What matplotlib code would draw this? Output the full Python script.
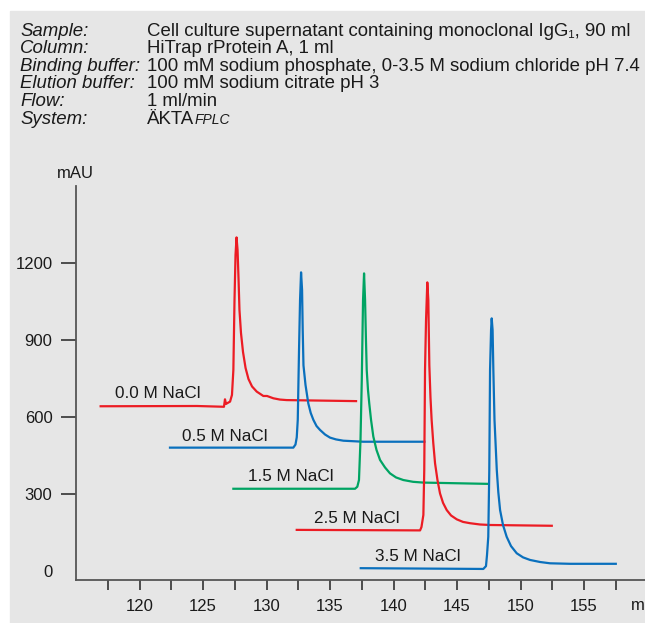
"""
Chromatograms of IgG1 on HiTrap rProtein A at increasing NaCl in the binding buffer.
Generates: out.png
"""
import matplotlib
matplotlib.use("Agg")
import matplotlib.pyplot as plt
from matplotlib.patches import Rectangle

plt.rcParams.update({
    'font.family': ['Liberation Sans', 'DejaVu Sans'],
    'font.size': 12,
})

# --- header info ---
info_keys = ['Sample:', 'Column:', 'Binding buffer:', 'Elution buffer:', 'Flow:', 'System:']
info_vals = ['Cell culture supernatant containing monoclonal IgG\u2081, 90 ml',
             'HiTrap rProtein A, 1 ml',
             '100 mM sodium phosphate, 0-3.5 M sodium chloride pH 7.4',
             '100 mM sodium citrate pH 3',
             '1 ml/min',
             '\u00c4KTA']

# --- traces (ml, mAU) ---
nacl_00_ml = [116.94, 124.53, 126.65, 126.73, 126.81, 126.91, 127.13, 127.28, 127.39, 127.48,
              127.56, 127.64, 127.72, 127.80, 127.87, 127.99, 128.15, 128.35, 128.58, 128.86,
              129.23, 129.75, 130.04, 130.54, 131.06, 131.59, 137.05]
nacl_00_mau = [641, 642, 639, 668, 650, 653, 659, 685, 782, 1054,
               1230, 1298, 1249, 1132, 1016, 926, 852, 790, 747, 718,
               698, 681, 681, 672, 667, 665, 661]

nacl_05_ml = [122.40, 132.11, 132.28, 132.38, 132.46, 132.56, 132.64, 132.72, 132.80, 132.85,
              132.91, 133.07, 133.29, 133.48, 133.69, 133.94, 134.21, 134.61, 135.00, 135.47,
              136.05, 137.62, 142.43]
nacl_05_mau = [480, 480, 492, 520, 588, 860, 1054, 1162, 1093, 938,
               800, 724, 652, 615, 588, 564, 549, 531, 519, 512,
               507, 503, 503]

nacl_15_ml = [127.39, 136.97, 137.15, 137.28, 137.40, 137.50, 137.60, 137.68, 137.76, 137.83,
              137.89, 137.99, 138.09, 138.23, 138.41, 138.66, 138.94, 139.33, 139.72, 140.20,
              140.77, 141.54, 142.35, 147.47]
nacl_15_mau = [320, 320, 328, 354, 510, 743, 1054, 1158, 1054, 899,
               782, 704, 652, 588, 523, 471, 432, 403, 380, 364,
               354, 347, 344, 339]

nacl_25_ml = [132.38, 142.09, 142.20, 142.35, 142.42, 142.48, 142.56, 142.66, 142.74, 142.82,
              142.91, 143.00, 143.13, 143.27, 143.46, 143.66, 143.90, 144.19, 144.53, 144.98,
              145.47, 146.02, 146.81, 147.60, 152.46]
nacl_25_mau = [160, 158, 171, 218, 393, 782, 977, 1123, 1054, 800,
               675, 588, 498, 419, 354, 302, 265, 237, 216, 201,
               191, 186, 181, 179, 176]

nacl_35_ml = [137.42, 147.07, 147.28, 147.36, 147.46, 147.54, 147.60, 147.68, 147.73, 147.80,
              147.86, 147.95, 148.13, 148.25, 148.39, 148.62, 148.91, 149.25, 149.70, 150.20,
              150.75, 151.54, 152.32, 153.90, 157.50]
nacl_35_mau = [11, 8, 19, 62, 133, 393, 782, 938, 983, 938,
               782, 588, 393, 307, 237, 179, 133, 97, 69, 53,
               43, 35, 30, 28, 28]

labels = ['0.0 M NaCl', '0.5 M NaCl', '1.5 M NaCl', '2.5 M NaCl', '3.5 M NaCl']
label_ml = [121.46, 126.71, 131.93, 137.13, 141.89]
label_mau = [691, 525, 366, 206, 56]

RED, BLUE, GREEN = '#ec1c24', '#0a70bd', '#00a463'
traces = [(nacl_00_ml, nacl_00_mau, RED), (nacl_05_ml, nacl_05_mau, BLUE),
          (nacl_15_ml, nacl_15_mau, GREEN), (nacl_25_ml, nacl_25_mau, RED),
          (nacl_35_ml, nacl_35_mau, BLUE)]

W, H = 645, 623
fig = plt.figure(figsize=(W / 100, H / 100), dpi=100, facecolor='white')
fig.patches.append(Rectangle((10 / W, 0), 1, 1 - 11 / H, transform=fig.transFigure,
                             color='#e6e6e6', zorder=-10))

# header block
txt_col = '#1a1a1a'
for i, (k, v) in enumerate(zip(info_keys, info_vals)):
    yc = 1 - (31 + i * 17.6) / H
    fig.text(20 / W, yc, k, style='italic', va='center', ha='left', color=txt_col, fontsize=13.4)
    t = fig.text(147 / W, yc, v, va='center', ha='left', color=txt_col, fontsize=13.4)
r = fig.canvas.get_renderer()
bb = t.get_window_extent(renderer=r)
fig.text(bb.x1 / W, yc - 1 / H, 'FPLC', style='italic', fontsize=10, va='center', ha='left',
         color=txt_col)

ax = fig.add_axes([76 / W, (H - 580) / H, (W - 76) / W, (580 - 186) / H])
ax.set_facecolor('none')

for ml, mau, c in traces:
    ax.plot(ml, mau, color=c, lw=1.6, solid_joinstyle='round')

for lab, x, y in zip(labels, label_ml, label_mau):
    ax.text(x, y, lab, ha='center', va='center', fontsize=12.3, color=txt_col)

ax.set_xlim(115, 159.8)
ax.set_ylim(-35, 1498)
for s in ['top', 'right']:
    ax.spines[s].set_visible(False)
for s in ['left', 'bottom']:
    ax.spines[s].set_color('#555555')
    ax.spines[s].set_linewidth(1.3)

ax.set_yticks([0, 300, 600, 900, 1200])
ax.tick_params(axis='y', length=11, width=1.2, color='#333333', pad=6, labelcolor=txt_col,
               labelsize=12)
ax.yaxis.get_major_ticks()[0].tick1line.set_visible(False)

ax.set_xticks([120, 125, 130, 135, 140, 145, 150, 155])
ax.set_xticks([117.5, 122.5, 127.5, 132.5, 137.5, 142.5, 147.5, 152.5, 157.5], minor=True)
ax.tick_params(axis='x', which='both', length=7.5, width=1.2, color='#333333', pad=6,
               labelcolor=txt_col, labelsize=12)

fig.text(75 / W, 1 - 173 / H, 'mAU', ha='center', va='center', color=txt_col)
# axis unit sits at the right edge and is cut off there, as in the original figure
fig.text(631 / W, 1 - 605 / H, 'ml', ha='left', va='center', color=txt_col)

fig.savefig('out.png', dpi=100)
print("Saved: out.png")
